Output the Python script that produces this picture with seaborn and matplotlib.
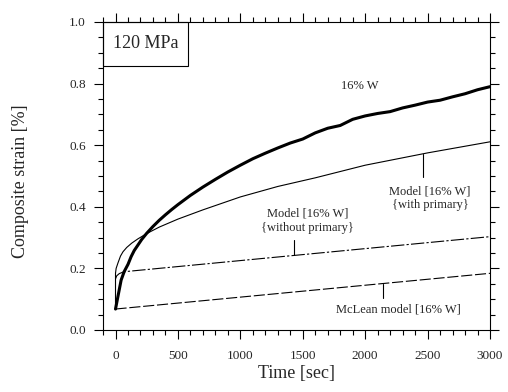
import numpy as np
import pandas as pd
import matplotlib
matplotlib.use("Agg")
import matplotlib.pyplot as plt
from matplotlib.ticker import MultipleLocator
from matplotlib.patches import Rectangle
import seaborn as sns

# Measured creep strain, 16% W composite at 120 MPa
exp_time = [0, 20, 45, 70, 100, 125, 150, 180, 210, 250, 300, 350, 400, 450,
            500, 600, 700, 800, 900, 1000, 1100, 1200, 1300, 1400, 1500, 1600,
            1700, 1800, 1900, 2000, 2100, 2200, 2300, 2400, 2500, 2600, 2700,
            2800, 2900, 3000]
exp_strain = [0.068, 0.110, 0.162, 0.190, 0.213, 0.238, 0.258, 0.276, 0.294,
              0.314, 0.336, 0.356, 0.374, 0.391, 0.407, 0.437, 0.464, 0.489,
              0.513, 0.535, 0.556, 0.574, 0.591, 0.607, 0.620, 0.640, 0.655,
              0.664, 0.684, 0.695, 0.703, 0.709, 0.721, 0.730, 0.740, 0.746,
              0.757, 0.767, 0.780, 0.790]

# Model including primary creep
prim_time = [0, 0, 5, 20, 40, 60, 90, 130, 180, 250, 350, 500, 700, 1000,
             1300, 1600, 2000, 2500, 3000]
prim_strain = [0.068, 0.184, 0.200, 0.218, 0.240, 0.254, 0.268, 0.282, 0.296,
               0.313, 0.334, 0.360, 0.390, 0.432, 0.466, 0.494, 0.535, 0.575,
               0.611]

# Model without primary creep
noprim_time = [0, 10, 30, 60, 90, 3000]
noprim_strain = [0.166, 0.176, 0.183, 0.188, 0.190, 0.303]

# McLean model
mclean_time = [0, 3000]
mclean_strain = [0.068, 0.184]

sns.set_theme(style="ticks")
plt.rcParams["font.family"] = ["Liberation Serif", "DejaVu Serif"]

fig, ax = plt.subplots(figsize=(5.08, 3.92), dpi=100)
fig.subplots_adjust(left=0.2028, right=0.9646, top=0.9439, bottom=0.1582)

sns.lineplot(x=exp_time, y=exp_strain, ax=ax, color="black", lw=2.2,
             estimator=None, sort=False)
sns.lineplot(x=prim_time, y=prim_strain, ax=ax, color="black", lw=0.8,
             estimator=None, sort=False)
sns.lineplot(x=noprim_time, y=noprim_strain, ax=ax, color="black", lw=0.8,
             ls=(0, (12, 2, 2, 2)), estimator=None, sort=False)
sns.lineplot(x=mclean_time, y=mclean_strain, ax=ax, color="black", lw=0.8,
             ls=(0, (10, 2.5)), estimator=None, sort=False)

ax.set_xlim(-100, 3000)
ax.set_ylim(0, 1.0)
ax.set_xticks(np.arange(0, 3001, 500))
ax.set_yticks(np.arange(0, 1.01, 0.2))
ax.set_yticklabels([f"{v:.1f}" for v in np.arange(0, 1.01, 0.2)])
ax.xaxis.set_minor_locator(MultipleLocator(100))
ax.yaxis.set_minor_locator(MultipleLocator(0.05))
ax.tick_params(which="both", direction="out", top=True, right=True,
               labeltop=False, labelright=False, width=0.8, color="black")
ax.tick_params(which="major", length=6.5, labelsize=9.5)
ax.tick_params(which="minor", length=3.5)
ax.tick_params(axis="x", which="major", pad=8)
ax.tick_params(axis="y", which="major", pad=6)
for s in ax.spines.values():
    s.set_linewidth(0.8)
    s.set_color("black")

ax.set_xlabel("Time [sec]", fontsize=13)
ax.set_ylabel("Composite strain [%]", fontsize=13)
ax.xaxis.set_label_coords(0.5, -0.115)
ax.yaxis.set_label_coords(-0.19, 0.484)

# Stress label box in the upper-left corner
ax.add_patch(Rectangle((0, 0.857), 0.22, 0.143, transform=ax.transAxes,
                       fill=False, edgecolor="black", lw=0.8, clip_on=False))
ax.text(0.11, 0.93, "120 MPa", transform=ax.transAxes, ha="center",
        va="center", fontsize=13)

ax.text(1960, 0.792, "16% W", ha="center", va="center", fontsize=9)

t_with = 2465
y_with = np.interp(t_with, prim_time[1:], prim_strain[1:])
ax.plot([t_with, t_with], [y_with, 0.497], color="black", lw=0.8)
ax.text(2520, 0.428, "Model [16% W]\n{with primary}", ha="center",
        va="center", fontsize=9, linespacing=1.25)

t_without = 1428
y_without = np.interp(t_without, noprim_time, noprim_strain)
ax.plot([t_without, t_without], [y_without, 0.292], color="black", lw=0.8)
ax.text(1540, 0.354, "Model [16% W]\n{without primary}", ha="center",
        va="center", fontsize=9, linespacing=1.25)

t_mc = 2143
y_mc = np.interp(t_mc, mclean_time, mclean_strain)
ax.plot([t_mc, t_mc], [y_mc, 0.104], color="black", lw=0.8)
ax.text(2263, 0.065, "McLean model [16% W]", ha="center", va="center",
        fontsize=9)

fig.savefig("out.png", dpi=100)
